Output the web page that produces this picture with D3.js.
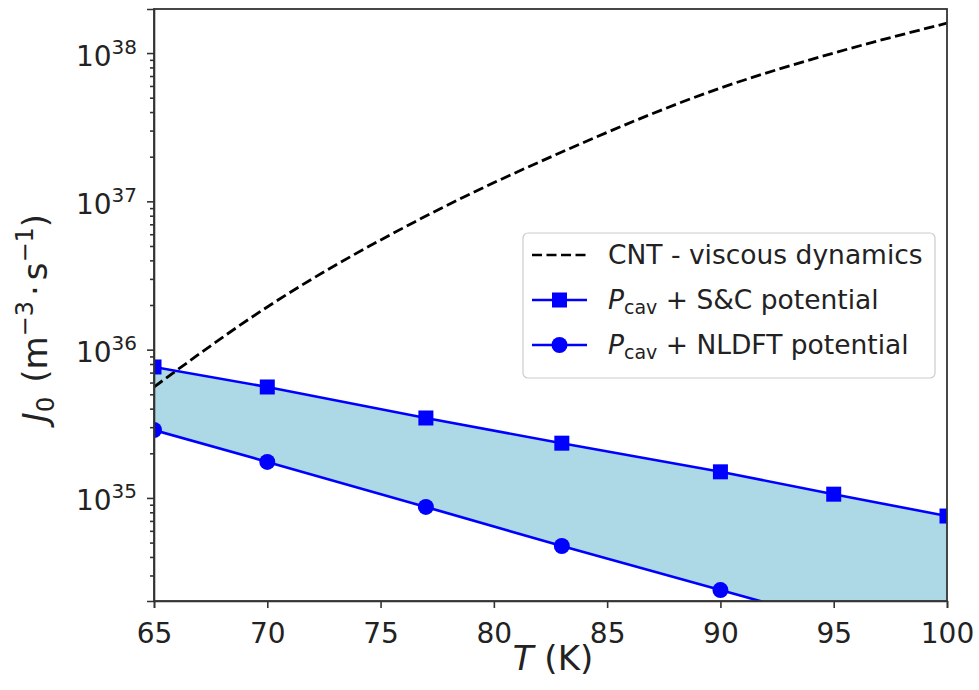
<!DOCTYPE html>
<html>
<head>
<meta charset="utf-8" />
<script src="https://cdn.jsdelivr.net/npm/d3@7"></script>
<style>
  body { margin: 0; background: #fff; }
  svg text { font-family: "DejaVu Sans", sans-serif; fill: #222; }
</style>
</head>
<body>
<svg id="chart" width="979" height="690"></svg>
<script>
// temperatures (K)
const temps = [65, 70, 77, 83, 90, 95, 100];
// nucleation rates J0 (m^-3 s^-1)
const cntViscous = [5.6e35, 1.94e36, 7.96e36, 2.15e37, 5.81e37, 1.0e38, 1.59e38];
const pcavSC = [7.64e35, 5.6e35, 3.46e35, 2.34e35, 1.5e35, 1.06e35, 7.55e34];
const pcavNLDFT = [2.87e35, 1.75e35, 8.7e34, 4.74e34, 2.39e34, 1.47e34, 9.0e33];

const xTicks = [65, 70, 75, 80, 85, 90, 95, 100];
const yDecades = [35, 36, 37, 38];

const svg = d3.select("#chart");
const m = { left: 154, top: 9, right: 947, bottom: 601 };

const x = d3.scaleLinear().domain([65, 100]).range([m.left, m.right]);
const y = d3.scaleLog().domain([Math.pow(10, 34.305), Math.pow(10, 38.297)]).range([m.bottom, m.top]);

svg.append("defs").append("clipPath").attr("id", "plot")
  .append("rect").attr("x", m.left).attr("y", m.top)
  .attr("width", m.right - m.left).attr("height", m.bottom - m.top);

const plot = svg.append("g").attr("clip-path", "url(#plot)");

const band = temps.map((t, i) => ({ t, hi: pcavSC[i], lo: pcavNLDFT[i] }));
plot.append("path").datum(band)
  .attr("fill", "#add8e6")
  .attr("d", d3.area().x(d => x(d.t)).y0(d => y(d.lo)).y1(d => y(d.hi)));

const line = d3.line().x(d => x(d[0])).y(d => y(d[1]));

plot.append("path").datum(d3.zip(temps, cntViscous))
  .attr("fill", "none").attr("stroke", "#000").attr("stroke-width", 2.8)
  .attr("stroke-dasharray", "10.5,4.5")
  .attr("d", line.curve(d3.curveMonotoneX));
line.curve(d3.curveLinear);

[pcavSC, pcavNLDFT].forEach((vals, k) => {
  const pts = d3.zip(temps, vals);
  plot.append("path").datum(pts)
    .attr("fill", "none").attr("stroke", "#0000ff").attr("stroke-width", 2.6)
    .attr("d", line);
  if (k === 0) {
    plot.selectAll(null).data(pts).join("rect")
      .attr("x", d => x(d[0]) - 7.5).attr("y", d => y(d[1]) - 7.5)
      .attr("width", 15).attr("height", 15).attr("fill", "#0000ff");
  } else {
    plot.selectAll(null).data(pts).join("circle")
      .attr("cx", d => x(d[0])).attr("cy", d => y(d[1]))
      .attr("r", 8).attr("fill", "#0000ff");
  }
});

// axes
const xAxis = svg.append("g").attr("transform", `translate(0,${m.bottom})`)
  .call(d3.axisBottom(x).tickValues(xTicks).tickSize(7).tickPadding(8));
xAxis.selectAll("text").attr("font-size", 28).attr("dy", "0.95em");

const minor = [];
for (let e = 34; e <= 38; e++) for (let k = 2; k <= 9; k++) {
  const v = k * Math.pow(10, e);
  if (v >= y.domain()[0] && v <= y.domain()[1]) minor.push(v);
}
const yMinor = svg.append("g").attr("transform", `translate(${m.left},0)`)
  .call(d3.axisLeft(y).tickValues(minor).tickSize(4).tickFormat(""));
yMinor.select(".domain").remove();

const yAxis = svg.append("g").attr("transform", `translate(${m.left},0)`)
  .call(d3.axisLeft(y).tickValues(yDecades.map(e => Math.pow(10, e))).tickSize(7).tickFormat(""));
yAxis.selectAll(".tick").each(function (d) {
  const t = d3.select(this).append("text")
    .attr("x", -17).attr("y", 12).attr("text-anchor", "end").attr("font-size", 28).attr("fill", "#222");
  t.append("tspan").text("10");
  t.append("tspan").attr("font-size", 20).attr("dy", -12).text(Math.round(Math.log10(d)));
});

svg.selectAll(".domain, .tick line").attr("stroke", "#333").attr("stroke-width", 1.6);

// frame
svg.append("rect").attr("x", m.left).attr("y", m.top)
  .attr("width", m.right - m.left).attr("height", m.bottom - m.top)
  .attr("fill", "none").attr("stroke", "#333").attr("stroke-width", 1.8);

// axis labels
const xl = svg.append("text").attr("x", 553).attr("y", 670).attr("text-anchor", "middle").attr("font-size", 34);
xl.append("tspan").attr("font-style", "italic").text("T");
xl.append("tspan").text(" (K)");

const yl = svg.append("text").attr("transform", "translate(47,318) rotate(-90)")
  .attr("text-anchor", "middle").attr("font-size", 34);
yl.append("tspan").attr("font-style", "italic").text("J");
yl.append("tspan").attr("font-size", 24).attr("dy", 7).text("0");
yl.append("tspan").attr("dy", -7).attr("dx", 14).text("(m");
yl.append("tspan").attr("font-size", 24).attr("dy", -14).text("\u22123");
yl.append("tspan").attr("dy", 14).attr("dx", 5).text("\u00b7");
yl.append("tspan").attr("dx", 5).text("s");
yl.append("tspan").attr("font-size", 24).attr("dy", -14).text("\u22121");
yl.append("tspan").attr("dy", 14).text(")");

// legend
const lg = svg.append("g");
lg.append("rect").attr("x", 523).attr("y", 233).attr("width", 412).attr("height", 145)
  .attr("rx", 5).attr("fill", "#fff").attr("fill-opacity", 0.85).attr("stroke", "#ccc").attr("stroke-width", 1.2);
const rows = [
  { y: 255, dash: true, label: ["CNT - viscous dynamics"] },
  { y: 300, marker: "square", label: ["P", "cav", " + S&C potential"] },
  { y: 345, marker: "circle", label: ["P", "cav", " + NLDFT potential"] }
];
rows.forEach(r => {
  lg.append("line").attr("x1", 532).attr("x2", 587).attr("y1", r.y).attr("y2", r.y)
    .attr("stroke", r.dash ? "#000" : "#0000ff").attr("stroke-width", 2.6)
    .attr("stroke-dasharray", r.dash ? "10,4.5" : null);
  if (r.marker === "square") lg.append("rect").attr("x", 552).attr("y", r.y - 7.5).attr("width", 15).attr("height", 15).attr("fill", "#0000ff");
  if (r.marker === "circle") lg.append("circle").attr("cx", 559.5).attr("cy", r.y).attr("r", 8).attr("fill", "#0000ff");
  const t = lg.append("text").attr("x", 608).attr("y", r.y + 9).attr("font-size", 26.5);
  if (r.label.length === 1) t.text(r.label[0]);
  else {
    t.append("tspan").attr("font-style", "italic").text(r.label[0]);
    t.append("tspan").attr("font-size", 19).attr("dy", 5).text(r.label[1]);
    t.append("tspan").attr("dy", -5).text(r.label[2]);
  }
});
</script>
</body>
</html>
